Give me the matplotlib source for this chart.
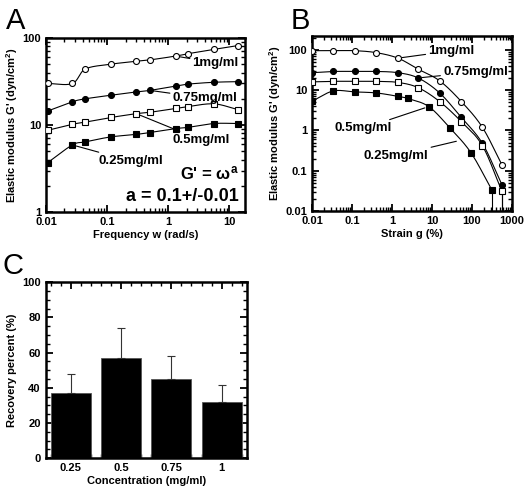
import numpy as np
import matplotlib
matplotlib.use("Agg")
import matplotlib.pyplot as plt
from matplotlib.ticker import LogLocator, FuncFormatter, MultipleLocator, NullFormatter

plt.rcParams['font.family'] = ['Liberation Sans', 'DejaVu Sans']
plt.rcParams['font.weight'] = 'bold'
plt.rcParams['mathtext.fontset'] = 'custom'
plt.rcParams['mathtext.rm'] = 'Liberation Sans:bold'
plt.rcParams['mathtext.it'] = 'Liberation Sans:bold'

# ---- Panel A: frequency sweep ----
freq = [0.0107, 0.027, 0.044, 0.115, 0.30, 0.50, 1.32, 2.1, 5.6, 14.0]
gA_1 = [30, 30, 44, 50, 54, 56, 62, 66, 74, 82]
gA_075 = [14.5, 18.5, 20, 22, 24, 25, 28, 29.5, 31, 31.5]
gA_05 = [8.7, 10.2, 10.8, 12.2, 13.5, 14, 15.5, 16.3, 17.5, 15]
gA_025 = [3.7, 5.9, 6.4, 7.3, 7.8, 8.2, 9.1, 9.4, 10.4, 10.4]

# ---- Panel B: strain sweep ----
strain = [0.01, 0.034, 0.116, 0.40, 1.41, 4.5, 15.5, 54, 181, 560]
strain_025 = [0.01, 0.034, 0.116, 0.40, 1.41, 2.46, 8.3, 28, 94, 310]
gB_1 = [95, 95, 95, 85, 62, 33, 17, 5.2, 1.2, 0.14]
gB_075 = [27, 29, 29, 29, 27, 20, 8.5, 2.1, 0.48, 0.045]
gB_05 = [16, 16.5, 16.5, 16.5, 15.5, 11.5, 5.2, 1.65, 0.42, 0.031]
gB_025 = [5.3, 9.5, 9.0, 8.5, 7.0, 6.2, 3.9, 1.15, 0.28, 0.034]

# ---- Panel C: recovery ----
conc = [0.25, 0.5, 0.75, 1.0]
conc_labels = ['0.25', '0.5', '0.75', '1']
recovery = [36.9, 57.2, 44.9, 32.2]
recovery_err = [10.8, 17.0, 13.2, 9.4]


def smooth(x, y, n=24):
    P = np.column_stack([np.log10(x), np.log10(y)])
    P = np.vstack([2 * P[0] - P[1], P, 2 * P[-1] - P[-2]])
    out = []
    t = np.linspace(0, 1, n, endpoint=False)[:, None]
    for i in range(1, len(P) - 2):
        p0, p1, p2, p3 = P[i - 1], P[i], P[i + 1], P[i + 2]
        seg = 0.5 * ((2 * p1) + (-p0 + p2) * t + (2 * p0 - 5 * p1 + 4 * p2 - p3) * t ** 2
                     + (-p0 + 3 * p1 - 3 * p2 + p3) * t ** 3)
        out.append(seg)
    out.append(P[-2][None, :])
    pts = np.vstack(out)
    return 10 ** pts[:, 0], 10 ** pts[:, 1]


def style_axes(ax):
    for s in ax.spines.values():
        s.set_linewidth(1.8)
    ax.tick_params(which='both', direction='in', top=True, right=True,
                   labelsize=8)
    ax.tick_params(which='major', length=5, width=1.3)
    ax.tick_params(which='minor', length=3, width=1.0)


fig = plt.figure(figsize=(5.28, 4.91), dpi=100)

lab_fmt = FuncFormatter(lambda v, p: ('%g' % v))
series_style = [
    dict(marker='o', mfc='white'),
    dict(marker='o', mfc='black'),
    dict(marker='s', mfc='white'),
    dict(marker='s', mfc='black'),
]
MS = 4.3

# Panel A
axA = fig.add_axes([0.0871, 0.5682, 0.377, 0.3544])
for ys, st in zip([gA_1, gA_075, gA_05, gA_025], series_style):
    sx, sy = smooth(freq, ys)
    axA.plot(sx, sy, color='black', lw=0.8, zorder=2)
    axA.plot(freq, ys, ls='none', marker=st['marker'], mfc=st['mfc'],
             mec='black', mew=0.8, ms=MS, zorder=3)
axA.set_xscale('log')
axA.set_yscale('log')
axA.set_xlim(0.01, 18)
axA.set_ylim(1, 100)
axA.xaxis.set_major_locator(LogLocator(base=10, numticks=10))
axA.xaxis.set_minor_locator(LogLocator(base=10, subs=np.arange(2, 10), numticks=20))
axA.yaxis.set_minor_locator(LogLocator(base=10, subs=np.arange(2, 10), numticks=20))
axA.xaxis.set_major_formatter(lab_fmt)
axA.yaxis.set_major_formatter(lab_fmt)
axA.xaxis.set_minor_formatter(NullFormatter())
axA.yaxis.set_minor_formatter(NullFormatter())
style_axes(axA)
axA.set_xlabel('Frequency w (rad/s)', fontsize=8, fontweight='bold', labelpad=2)
axA.set_ylabel("Elastic modulus G' (dyn/cm$^2$)", fontsize=8, fontweight='bold', labelpad=2)

ann = dict(arrowprops=dict(arrowstyle='-', lw=0.8, color='black', shrinkA=0, shrinkB=3),
           fontsize=9.5, fontweight='bold', va='center')
axA.annotate('1mg/ml', xy=(freq[6], gA_1[6]), xytext=(2.5, 51.6), ha='left', **ann)
axA.annotate('0.75mg/ml', xy=(freq[5], gA_075[5]), xytext=(1.18, 20.4), ha='left', **ann)
axA.annotate('0.5mg/ml', xy=(freq[4], gA_05[4]), xytext=(1.18, 6.7), ha='left', **ann)
axA.annotate('0.25mg/ml', xy=(freq[1], gA_025[1]), xytext=(0.0715, 3.86), ha='left', **ann)
axA.text(0.97, 0.22, r"G' = $\omega^{a}$", transform=axA.transAxes, ha='right',
         va='center', fontsize=12, fontweight='bold')
axA.text(0.97, 0.09, 'a = 0.1+/-0.01', transform=axA.transAxes, ha='right',
         va='center', fontsize=13, fontweight='bold')

# Panel B
axB = fig.add_axes([0.5909, 0.5703, 0.3788, 0.3564])
b_x = [strain, strain, strain, strain_025]
for xs, ys, st in zip(b_x, [gB_1, gB_075, gB_05, gB_025], series_style):
    sx, sy = smooth(xs, ys)
    axB.plot(sx, sy, color='black', lw=0.8, zorder=2)
    axB.plot(xs, ys, ls='none', marker=st['marker'], mfc=st['mfc'],
             mec='black', mew=0.8, ms=MS, zorder=3)
axB.set_xscale('log')
axB.set_yscale('log')
axB.set_xlim(0.01, 1000)
axB.set_ylim(0.01, 220)
for xs, ys in zip(b_x[1:], [gB_075, gB_05, gB_025]):
    axB.vlines(xs[-1], 0.01, ys[-1], color='black', lw=0.8, zorder=2)
axB.xaxis.set_major_locator(LogLocator(base=10, numticks=10))
axB.yaxis.set_major_locator(LogLocator(base=10, numticks=10))
axB.xaxis.set_minor_locator(LogLocator(base=10, subs=np.arange(2, 10), numticks=20))
axB.yaxis.set_minor_locator(LogLocator(base=10, subs=np.arange(2, 10), numticks=20))
axB.xaxis.set_major_formatter(lab_fmt)
axB.yaxis.set_major_formatter(lab_fmt)
axB.xaxis.set_minor_formatter(NullFormatter())
axB.yaxis.set_minor_formatter(NullFormatter())
style_axes(axB)
axB.set_xlabel('Strain g (%)', fontsize=8, fontweight='bold', labelpad=2)
axB.set_ylabel("Elastic modulus G' (dyn/cm$^2$)", fontsize=8, fontweight='bold', labelpad=2)

axB.annotate('1mg/ml', xy=(strain[4], gB_1[4]), xytext=(8.1, 94), ha='left', **ann)
axB.annotate('0.75mg/ml', xy=(strain[5], gB_075[5]), xytext=(19, 28), ha='left', **ann)
axB.annotate('0.5mg/ml', xy=(strain_025[6], gB_025[6]), xytext=(1.0, 1.12), ha='right', **ann)
mid_x = np.sqrt(strain_025[7] * strain_025[8])
mid_y = np.sqrt(gB_025[7] * gB_025[8])
axB.annotate('0.25mg/ml', xy=(mid_x, mid_y), xytext=(8.1, 0.237), ha='right', **ann)

# Panel C
axC = fig.add_axes([0.0866, 0.0666, 0.3807, 0.3585])
axC.bar(conc, recovery, width=0.2, color='black', edgecolor='#555555', lw=0.6, zorder=2)
axC.errorbar(conc, recovery, yerr=[np.zeros(len(recovery)), recovery_err], fmt='none',
             ecolor='#333333', elinewidth=0.8, capsize=3, capthick=0.8, zorder=3)
axC.set_xlim(0.125, 1.125)
axC.set_ylim(0, 100)
axC.set_xticks(conc)
axC.set_xticklabels(conc_labels)
axC.xaxis.set_minor_locator(MultipleLocator(0.05))
axC.yaxis.set_major_locator(MultipleLocator(20))
axC.yaxis.set_minor_locator(MultipleLocator(5))
style_axes(axC)
axC.set_xlabel('Concentration (mg/ml)', fontsize=8, fontweight='bold', labelpad=2)
axC.set_ylabel('Recovery percent (%)', fontsize=8, fontweight='bold', labelpad=4)

# Panel letters
fig.text(0.012, 0.985, 'A', fontsize=21, fontweight='normal', va='top', ha='left')
fig.text(0.551, 0.985, 'B', fontsize=21, fontweight='normal', va='top', ha='left')
fig.text(0.004, 0.487, 'C', fontsize=21, fontweight='normal', va='top', ha='left')

fig.savefig('out.png', dpi=100)
